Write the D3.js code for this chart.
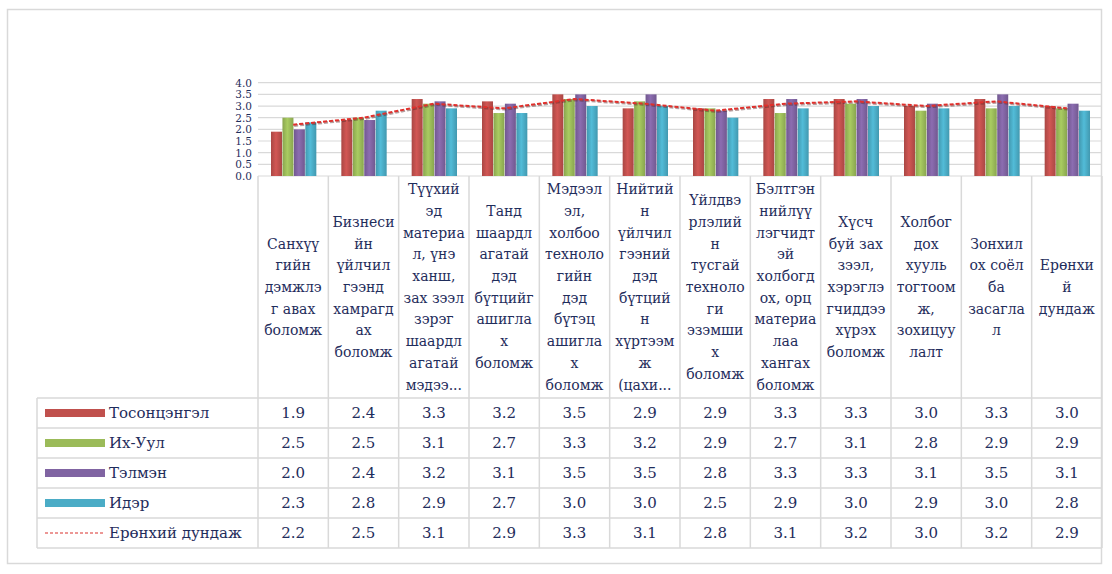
<!DOCTYPE html>
<html>
<head>
<meta charset="utf-8">
<script src="https://cdn.jsdelivr.net/npm/d3@7"></script>
<style>
  body { margin: 0; background: #fff; }
</style>
</head>
<body>
<main></main>
<script>
var width = 1112;
var height = 574;
var serif = "'DejaVu Serif'";

// category labels, already wrapped the way the source shows them
var categories = [
  ["Санхүү", "гийн", "дэмжлэ", "г авах", "боломж"],
  ["Бизнеси", "йн", "үйлчил", "гээнд", "хамрагд", "ах", "боломж"],
  ["Түүхий", "эд", "материа", "л, үнэ", "ханш,", "зах зээл", "зэрэг", "шаардл", "агатай", "мэдээ..."],
  ["Танд", "шаардл", "агатай", "дэд", "бүтцийг", "ашигла", "х", "боломж"],
  ["Мэдээл", "эл,", "холбоо", "техноло", "гийн", "дэд", "бүтэц", "ашигла", "х", "боломж"],
  ["Нийтий", "н", "үйлчил", "гээний", "дэд", "бүтций", "н", "хүртээм", "ж", "(цахи..."],
  ["Үйлдвэ", "рлэлий", "н", "тусгай", "техноло", "ги", "эзэмши", "х", "боломж"],
  ["Бэлтгэн", "нийлүү", "лэгчидт", "эй", "холбогд", "ох, орц", "материа", "лаа", "хангах", "боломж"],
  ["Хүсч", "буй зах", "зээл,", "хэрэглэ", "гчиддээ", "хүрэх", "боломж"],
  ["Холбог", "дох", "хууль", "тогтоом", "ж,", "зохицуу", "лалт"],
  ["Зонхил", "ох соёл", "ба", "засагла", "л"],
  ["Ерөнхи", "й", "дундаж"]
];

var seriesNames = ["Тосонцэнгэл", "Их-Уул", "Тэлмэн", "Идэр"];
var tosontsengel = [1.9, 2.4, 3.3, 3.2, 3.5, 2.9, 2.9, 3.3, 3.3, 3.0, 3.3, 3.0];
var ikhUul       = [2.5, 2.5, 3.1, 2.7, 3.3, 3.2, 2.9, 2.7, 3.1, 2.8, 2.9, 2.9];
var telmen       = [2.0, 2.4, 3.2, 3.1, 3.5, 3.5, 2.8, 3.3, 3.3, 3.1, 3.5, 3.1];
var ider         = [2.3, 2.8, 2.9, 2.7, 3.0, 3.0, 2.5, 2.9, 3.0, 2.9, 3.0, 2.8];
var avgName = "Ерөнхий дундаж";
var average      = [2.2, 2.5, 3.1, 2.9, 3.3, 3.1, 2.8, 3.1, 3.2, 3.0, 3.2, 2.9];
var yTicks = [0, 0.5, 1, 1.5, 2, 2.5, 3, 3.5, 4];

var barSeries = [tosontsengel, ikhUul, telmen, ider];
var colors = ["#c0504d", "#9bbb59", "#8064a2", "#4bacc6"];
var textColor = "#1f2d5c";
var gridColor = "#d9d9d9";

var svg = d3.select('main').append('svg')
  .attr('width', width)
  .attr('height', height);

// outer frame
svg.append('rect')
  .attr('x', 7.5).attr('y', 9.5)
  .attr('width', 1094).attr('height', 554)
  .attr('fill', '#fff')
  .attr('stroke', '#d9d9d9')
  .attr('stroke-width', 1.5);

var idx = d3.range(categories.length);
var x0 = d3.scaleBand().domain(idx).range([258, 1102]);
var bw = x0.bandwidth();
var x1 = d3.scaleBand().domain(d3.range(4)).range([13, bw - 12]).paddingInner(0.04);
var y = d3.scaleLinear().domain([0, 4]).range([176, 82.7]);

// gradients for the bars
var defs = svg.append('defs');
colors.forEach(function(c, i) {
  var g = defs.append('linearGradient').attr('id', 'g' + i)
    .attr('x1', 0).attr('x2', 1).attr('y1', 0).attr('y2', 0);
  var dark = d3.color(c).darker(0.35);
  var light = d3.color(c).brighter(0.25);
  g.append('stop').attr('offset', '0%').attr('stop-color', dark);
  g.append('stop').attr('offset', '45%').attr('stop-color', light);
  g.append('stop').attr('offset', '100%').attr('stop-color', dark);
});

// gridlines
svg.append('g').selectAll('line')
  .data(yTicks)
  .enter().append('line')
  .attr('x1', 258).attr('x2', 1102)
  .attr('y1', function(d) { return y(d); })
  .attr('y2', function(d) { return y(d); })
  .attr('stroke', gridColor)
  .attr('stroke-width', 1.2);

// y axis labels (no line)
var yAxis = d3.axisLeft(y).tickValues(yTicks).tickFormat(d3.format('.1f')).tickSize(0).tickPadding(0);
var yg = svg.append('g').attr('transform', 'translate(252,0)').call(yAxis);
yg.select('.domain').remove();
yg.attr('font-family', null).attr('font-size', null);
yg.selectAll('text')
  .attr('fill', textColor)
  .style('font-size', '10.5px')
  .style('font-family', serif);

// bars
barSeries.forEach(function(vals, s) {
  svg.append('g').selectAll('rect')
    .data(vals)
    .enter().append('rect')
    .attr('x', function(d, i) { return x0(i) + x1(s); })
    .attr('y', function(d) { return y(d); })
    .attr('width', x1.bandwidth())
    .attr('height', function(d) { return y(0) - y(d); })
    .attr('fill', 'url(#g' + s + ')');
});

// average line
var line = d3.line()
  .x(function(d, i) { return x0(i) + bw / 2; })
  .y(function(d) { return y(d); });
svg.append('path')
  .datum(average)
  .attr('d', line)
  .attr('fill', 'none')
  .attr('stroke', '#5a2a2a')
  .attr('stroke-opacity', 0.45)
  .attr('stroke-width', 2.5)
  .attr('transform', 'translate(1,1)')
  .attr('stroke-dasharray', '4,2');
svg.append('path')
  .datum(average)
  .attr('d', line)
  .attr('fill', 'none')
  .attr('stroke', '#e0302c')
  .attr('stroke-width', 2)
  .attr('stroke-dasharray', '4,2');

// data table
var tableTop = 176, headBottom = 398, rowH = 30, legendLeft = 37;
var rows = barSeries.concat([average]);
var tableBottom = headBottom + rowH * rows.length;
var tg = svg.append('g');

// horizontal rules
d3.range(rows.length + 1).forEach(function(r) {
  tg.append('line')
    .attr('x1', legendLeft).attr('x2', 1102)
    .attr('y1', headBottom + r * rowH).attr('y2', headBottom + r * rowH)
    .attr('stroke', gridColor).attr('stroke-width', 1.5);
});
// vertical rules
d3.range(categories.length + 1).forEach(function(i) {
  var xx = i < categories.length ? x0(i) : 1102;
  tg.append('line')
    .attr('x1', xx).attr('x2', xx)
    .attr('y1', tableTop).attr('y2', tableBottom)
    .attr('stroke', gridColor).attr('stroke-width', 1.5);
});
tg.append('line')
  .attr('x1', legendLeft).attr('x2', legendLeft)
  .attr('y1', headBottom).attr('y2', tableBottom)
  .attr('stroke', gridColor).attr('stroke-width', 1.5);

// header labels
var lineH = 21.7;
categories.forEach(function(lines, i) {
  var cy = (tableTop + headBottom) / 2;
  var startY = cy - (lines.length - 1) * lineH / 2;
  var t = tg.append('text')
    .attr('text-anchor', 'middle')
    .attr('fill', textColor)
    .style('font-family', serif)
    .style('font-size', '14px');
  lines.forEach(function(l, k) {
    t.append('tspan')
      .attr('x', x0(i) + bw / 2)
      .attr('y', startY + k * lineH)
      .attr('dy', '0.35em')
      .text(l);
  });
});

// values and legend keys
var rowNames = seriesNames.concat([avgName]);
rows.forEach(function(vals, r) {
  var cy = headBottom + r * rowH + rowH / 2;
  if (r < 4) {
    tg.append('rect')
      .attr('x', 45).attr('y', cy - 4)
      .attr('width', 60).attr('height', 8)
      .attr('fill', colors[r]);
  } else {
    tg.append('line')
      .attr('x1', 45).attr('x2', 105)
      .attr('y1', cy).attr('y2', cy)
      .attr('stroke', '#d9302c').attr('stroke-width', 1.2)
      .attr('stroke-dasharray', '3,2');
  }
  tg.append('text')
    .attr('x', 109).attr('y', cy).attr('dy', '0.35em')
    .attr('fill', textColor)
    .style('font-family', serif)
    .style('font-size', '15px')
    .text(rowNames[r]);
  tg.append('g').selectAll('text')
    .data(vals)
    .enter().append('text')
    .attr('x', function(d, i) { return x0(i) + bw / 2; })
    .attr('y', cy).attr('dy', '0.35em')
    .attr('text-anchor', 'middle')
    .attr('fill', textColor)
    .style('font-family', serif)
    .style('font-size', '15px')
    .text(function(d) { return d3.format('.1f')(d); });
});
</script>
</body>
</html>
